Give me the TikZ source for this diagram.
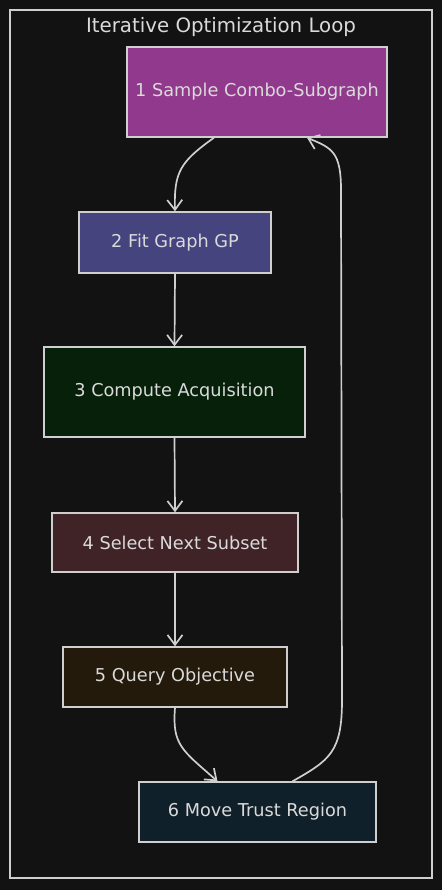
\documentclass[tikz,border=0pt]{standalone}
\usepackage{fontspec}
\setmainfont{DejaVu Sans}
\usetikzlibrary{arrows.meta}
\definecolor{bg}{HTML}{121212}
\definecolor{edge}{HTML}{CFCFCF}
\definecolor{txt}{HTML}{DADADA}
\definecolor{cA}{HTML}{913A8D}
\definecolor{cB}{HTML}{46447F}
\definecolor{cC}{HTML}{06200A}
\definecolor{cD}{HTML}{402326}
\definecolor{cE}{HTML}{231A0C}
\definecolor{cF}{HTML}{10202A}
\begin{document}
\begin{tikzpicture}[x=1pt,y=-1pt,
  box/.style={draw=edge, line width=1.4pt, text=txt, font=\fontsize{17.7}{20}\selectfont, inner sep=0pt},
  ttl/.style={text=txt, font=\fontsize{19.8}{22}\selectfont, inner sep=0pt},
  arr/.style={draw=edge, line width=1.7pt, -{Straight Barb[length=10pt,width=15pt,line width=1.7pt]}}]
\fill[bg] (0,0) rectangle (442,890);
\useasboundingbox (0,0) rectangle (442,890);
\draw[edge, line width=1.5pt] (10,10) rectangle (432,878);
\node[ttl] (t) at (221,27) {Iterative Optimization Loop};
\node[box, fill=cA, minimum width=260pt, minimum height=90pt] (n1) at (257,92) {1 Sample Combo-Subgraph};
\node[box, fill=cB, minimum width=192pt, minimum height=61pt] (n2) at (175,242.5) {2 Fit Graph GP};
\node[box, fill=cC, minimum width=261pt, minimum height=90pt] (n3) at (174.5,392) {3 Compute Acquisition};
\node[box, fill=cD, minimum width=246pt, minimum height=59pt] (n4) at (175,542.5) {4 Select Next Subset};
\node[box, fill=cE, minimum width=224pt, minimum height=60pt] (n5) at (175,677) {5 Query Objective};
\node[box, fill=cF, minimum width=237pt, minimum height=60pt] (n6) at (257.5,812) {6 Move Trust Region};
\draw[arr] ([xshift=-43pt]n1.south) .. controls (180,162) and (174,172) .. (n2.north);
\draw[arr] (n2.south) -- (n3.north);
\draw[arr] (n3.south) -- (n4.north);
\draw[arr] (n4.south) -- (n5.north);
\draw[arr] (n5.south) .. controls (172,745) and (182,750) .. ([xshift=-40pt]n6.north);
\draw[arr] ([xshift=35pt]n6.north) .. controls (330,760) and (342,752) .. (342,700) -- (341,190) .. controls (341,152) and (332,148) .. ([xshift=50pt]n1.south);
\end{tikzpicture}
\end{document}
